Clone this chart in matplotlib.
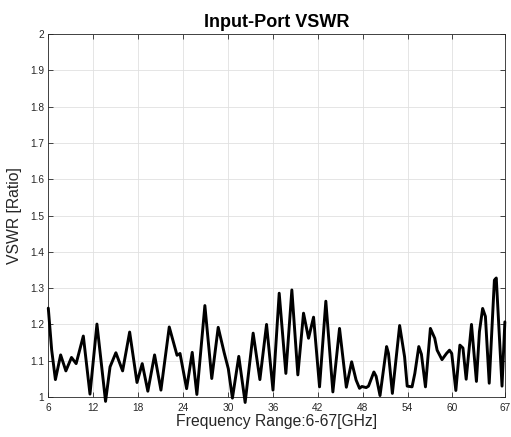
import matplotlib
matplotlib.use('Agg')
import matplotlib.pyplot as plt

# VSWR trace (frequency in GHz, VSWR ratio)
freq_ghz = [6.0, 6.45, 6.95, 7.65, 8.35, 9.1, 9.72, 10.68, 11.57, 12.5,
            13.65, 14.25, 15.03, 15.93, 16.87, 17.85, 18.55, 19.3, 20.2, 21.05,
            22.16, 23.2, 23.6, 24.48, 25.23, 25.85, 26.92, 27.84, 28.7, 29.5,
            30.05, 30.6, 31.45, 32.3, 33.37, 34.27, 35.16, 36.02, 36.85, 37.74,
            38.54, 39.34, 40.1, 40.77, 41.44, 42.24, 43.08, 44.02, 44.91, 45.82,
            46.53, 47.12, 47.58, 47.9, 48.47, 48.78, 49.5, 49.8, 50.32, 51.2,
            51.45, 51.97, 52.94, 53.6, 53.95, 54.6, 54.97, 55.5, 55.85, 56.39,
            57.05, 57.63, 57.95, 58.6, 59.2, 59.6, 59.9, 60.45, 60.99, 61.4,
            61.83, 62.54, 63.2, 63.6, 64.03, 64.4, 64.91, 65.3, 65.6, 65.85,
            66.62, 67.0]
vswr = [1.245, 1.13, 1.048, 1.116, 1.072, 1.109, 1.092, 1.168, 1.008, 1.201,
        0.988, 1.083, 1.122, 1.072, 1.179, 1.04, 1.092, 1.016, 1.116, 1.019,
        1.193, 1.115, 1.12, 1.023, 1.123, 1.007, 1.252, 1.051, 1.192, 1.122,
        1.078, 0.997, 1.112, 0.985, 1.176, 1.048, 1.2, 1.019, 1.286, 1.065,
        1.295, 1.061, 1.231, 1.162, 1.22, 1.028, 1.264, 1.014, 1.189, 1.027,
        1.097, 1.047, 1.024, 1.029, 1.026, 1.03, 1.069, 1.057, 1.004, 1.139,
        1.12, 1.01, 1.197, 1.111, 1.03, 1.028, 1.065, 1.139, 1.118, 1.028,
        1.189, 1.162, 1.129, 1.103, 1.12, 1.129, 1.12, 1.018, 1.143, 1.135,
        1.049, 1.2, 1.043, 1.18, 1.244, 1.222, 1.038, 1.2, 1.322, 1.328,
        1.03, 1.207]

x_ticks = [6, 12, 18, 24, 30, 36, 42, 48, 54, 60, 67]
y_ticks = [1, 1.1, 1.2, 1.3, 1.4, 1.5, 1.6, 1.7, 1.8, 1.9, 2]
y_tick_labels = ['1', '1.1', '1.2', '1.3', '1.4', '1.5', '1.6', '1.7', '1.8', '1.9', '2']

plt.rcParams['font.family'] = ['Liberation Sans', 'DejaVu Sans']
axis_col = '#262626'

fig = plt.figure(figsize=(5.11, 4.37), dpi=100)
ax = fig.add_axes([0.0945, 0.0915, 0.8935, 0.8305])

ax.plot(freq_ghz, vswr, color='black', linewidth=2.1, clip_on=False, zorder=3,
        solid_joinstyle='round', solid_capstyle='round')

ax.set_xlim(6, 67)
ax.set_ylim(1, 2)
ax.set_xticks(x_ticks)
ax.set_yticks(y_ticks)
ax.set_yticklabels(y_tick_labels)
ax.grid(True, color='#e0e0e0', linewidth=0.6)
ax.set_axisbelow(True)
ax.tick_params(direction='in', length=3.5, width=0.6, colors=axis_col,
               labelsize=7.3, top=True, right=True, pad=3)
ax.tick_params(axis='x', pad=4)
for sp in ax.spines.values():
    sp.set_color(axis_col)
    sp.set_linewidth(0.6)

ax.set_title('Input-Port VSWR', fontsize=13, fontweight='bold', pad=5)
ax.set_xlabel('Frequency Range:6-67[GHz]', fontsize=11.3, color=axis_col, labelpad=1)
ax.set_ylabel('VSWR [Ratio]', fontsize=11.3, color=axis_col, labelpad=6)

fig.savefig('out.png', dpi=100)
